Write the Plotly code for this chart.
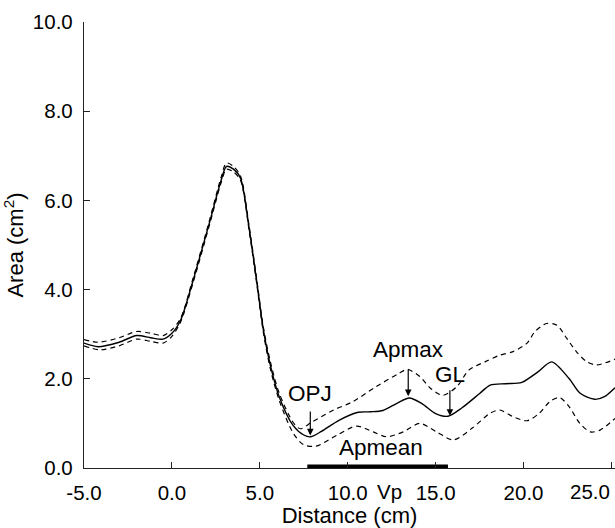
import plotly.graph_objects as go

# ---- data ----
x_mean = [-5.0, -4.2, -3.0, -2.0, -1.2, -0.5, 0.0, 0.5, 1.2, 2.1, 2.8, 3.1, 3.5, 3.9, 4.4, 4.8, 5.2, 5.6,
          6.1, 6.9, 7.5, 7.9, 8.5, 9.5, 10.6, 11.3, 12.0, 12.8, 13.5, 14.2, 15.0, 15.7, 16.5, 17.5,
          18.1, 19.0, 19.9, 20.8, 21.6, 22.6, 23.2, 24.05, 24.6, 25.2]
y_mean = [2.80, 2.72, 2.82, 2.97, 2.92, 2.89, 3.02, 3.32, 4.20, 5.45, 6.45, 6.76, 6.70, 6.50, 5.35, 4.25,
          3.10, 2.30, 1.60, 0.95, 0.74, 0.70, 0.82, 1.07, 1.25, 1.26, 1.29, 1.45, 1.57, 1.45, 1.22,
          1.16, 1.35, 1.67, 1.86, 1.89, 1.92, 2.15, 2.38, 2.00, 1.68, 1.54, 1.60, 1.80]

x_upper = [-5.0, -4.2, -3.0, -2.0, -1.2, -0.5, 0.0, 0.5, 1.2, 2.1, 2.8, 3.1, 3.5, 3.9, 4.4, 4.8, 5.2, 5.6,
           6.1, 6.9, 7.3, 8.0, 9.2, 10.3, 11.6, 12.9, 13.4, 14.1, 14.7, 15.4, 16.2, 16.9, 17.8,
           18.65, 19.4, 20.2, 20.65, 21.3, 21.9, 22.45, 23.0, 23.6, 24.15, 25.2]
y_upper = [2.88, 2.82, 2.92, 3.06, 3.02, 2.97, 3.10, 3.36, 4.25, 5.50, 6.52, 6.84, 6.76, 6.55, 5.40, 4.30,
           3.16, 2.38, 1.68, 1.02, 0.88, 1.04, 1.30, 1.49, 1.82, 2.12, 2.21, 2.05, 1.79, 1.63,
           1.82, 2.20, 2.38, 2.53, 2.61, 2.80, 3.06, 3.24, 3.20, 2.91, 2.61, 2.38, 2.31, 2.44]

x_lower = [-5.0, -4.1, -3.0, -2.0, -1.2, -0.5, 0.0, 0.5, 1.2, 2.1, 2.8, 3.1, 3.5, 3.9, 4.4, 4.8, 5.2, 5.6,
           6.1, 6.9, 7.5, 8.2, 9.4, 10.5, 11.45, 12.2, 13.15, 14.1, 15.05, 16.0, 17.1, 18.1,
           18.65, 19.4, 20.2, 20.9, 21.5, 22.05, 22.6, 23.2, 23.8, 24.35, 25.2]
y_lower = [2.74, 2.65, 2.74, 2.89, 2.84, 2.80, 2.95, 3.28, 4.15, 5.40, 6.40, 6.70, 6.64, 6.45, 5.30, 4.20,
           3.04, 2.22, 1.52, 0.78, 0.52, 0.49, 0.74, 0.94, 0.81, 0.70, 0.81, 1.00, 0.81, 0.63,
           0.90, 1.23, 1.30, 1.15, 1.06, 1.23, 1.49, 1.58, 1.37, 1.00, 0.81, 0.85, 1.11]

vp_segment = [7.7, 15.7]          # Vp bar along the x axis
x_ticks = [-5, 0, 5, 10, 15, 20]
x_ticktext = ["-5.0", "0.0", "5.0", "10.0", "15.0", "20.0"]
x_last_tick = 25
x_last_label = "25.0"
y_ticks = [0, 2, 4, 6, 8, 10]
y_ticktext = ["0.0", "2.0", "4.0", "6.0", "8.0", "10.0"]

# marker annotations: label, arrow head x, arrow head y
marks = [
    ("OPJ", 7.87, 0.73),
    ("Apmax", 13.44, 1.61),
    ("GL", 15.81, 1.17),
]
mark_style = {"OPJ": (-42, 4), "Apmax": (-46.5, 6), "GL": (-41.5, 2)}
apmean_pos = (11.91, 0.46)
vp_label_x = 12.4

FONT = "Liberation Sans, Arial, sans-serif"
ANN = 22.5

fig = go.Figure()
dash = "5px,4px"
fig.add_trace(go.Scatter(x=x_upper, y=y_upper, mode="lines",
                         line=dict(color="black", width=1.2, dash=dash, shape="spline", smoothing=0.8),
                         showlegend=False, hoverinfo="skip"))
fig.add_trace(go.Scatter(x=x_lower, y=y_lower, mode="lines",
                         line=dict(color="black", width=1.2, dash=dash, shape="spline", smoothing=0.8),
                         showlegend=False, hoverinfo="skip"))
fig.add_trace(go.Scatter(x=x_mean, y=y_mean, mode="lines",
                         line=dict(color="black", width=1.4, shape="spline", smoothing=0.8),
                         showlegend=False, hoverinfo="skip"))
fig.add_trace(go.Scatter(x=vp_segment, y=[0, 0], mode="lines",
                         line=dict(color="black", width=7), cliponaxis=False,
                         showlegend=False, hoverinfo="skip"))

annotations = []
for label, hx, hy in marks:
    ay, sso = mark_style[label]
    annotations.append(dict(x=hx, y=hy, xref="x", yref="y", text=label, showarrow=True,
                            ax=0, ay=ay, startstandoff=sso, arrowhead=2, arrowsize=1.1,
                            arrowwidth=1.2, arrowcolor="black",
                            font=dict(size=ANN, color="black", family=FONT)))
annotations.append(dict(x=apmean_pos[0], y=apmean_pos[1], xref="x", yref="y", text="Apmean",
                        showarrow=False, font=dict(size=ANN, color="black", family=FONT)))
annotations.append(dict(x=vp_label_x, y=0, xref="x", yref="paper", text="Vp", showarrow=False,
                        yanchor="middle", yshift=-23, font=dict(size=20.5, color="black", family=FONT)))
annotations.append(dict(x=x_last_tick, y=0, xref="x", yref="paper", text=x_last_label, showarrow=False,
                        xanchor="right", yanchor="middle", yshift=-23, xshift=1,
                        font=dict(size=20.5, color="black", family=FONT)))

fig.update_layout(
    width=615, height=528,
    margin=dict(l=84, r=0, t=22, b=60),
    paper_bgcolor="white", plot_bgcolor="white",
    font=dict(family=FONT, size=20.5, color="black"),
    annotations=annotations,
)
fig.update_xaxes(range=[-5, 25.2], tickvals=x_ticks, ticktext=x_ticktext,
                 ticks="inside", ticklen=6, tickwidth=1.2, tickcolor="#222",
                 minor=dict(tickvals=[x_last_tick], ticks="inside", ticklen=6, tickwidth=1.2,
                            tickcolor="#222", showgrid=False),
                 showline=True, linecolor="#222", linewidth=1.3, showgrid=False, zeroline=False,
                 ticklabelstandoff=6, tickfont=dict(size=20.5),
                 title=dict(text="Distance (cm)", font=dict(size=22), standoff=4))
fig.update_yaxes(range=[0, 10], tickvals=y_ticks, ticktext=y_ticktext,
                 ticks="inside", ticklen=6, tickwidth=1.2, tickcolor="#222",
                 showline=True, linecolor="#222", linewidth=1.3, showgrid=False, zeroline=False,
                 ticklabelstandoff=6, tickfont=dict(size=20.5),
                 title=dict(text="Area (cm<sup>2</sup>)", font=dict(size=22), standoff=3))

fig.write_html("out.html", config={"displayModeBar": False},
               post_script="document.body.style.margin='0';document.body.style.overflow='hidden';")
